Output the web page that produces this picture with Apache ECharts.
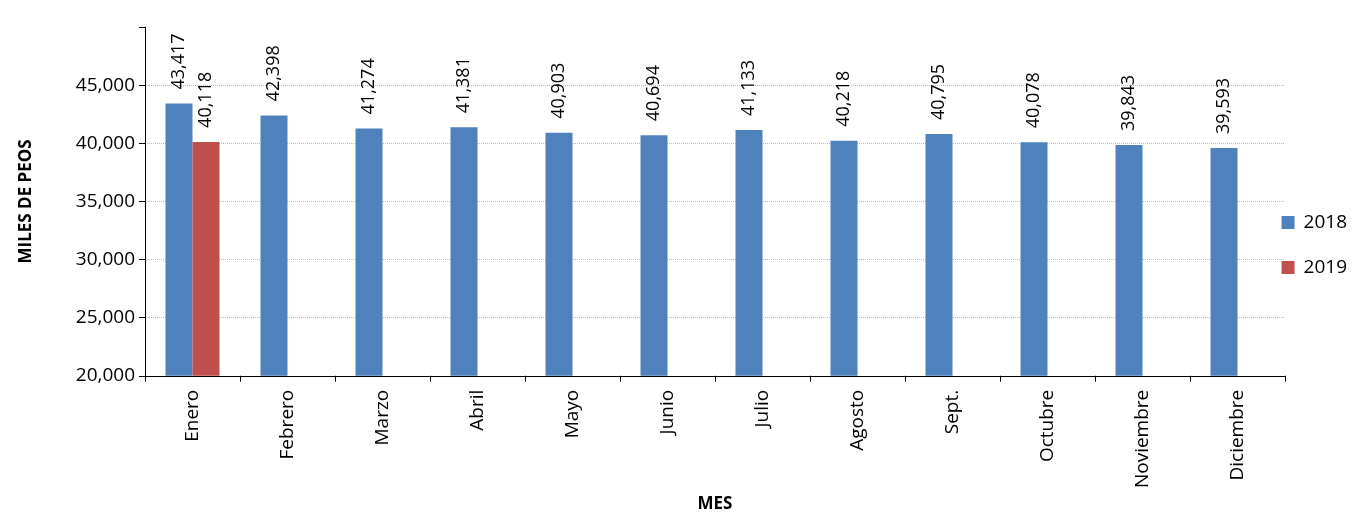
<!DOCTYPE html>
<html><head><meta charset="utf-8">
<script src="https://cdn.jsdelivr.net/npm/echarts@6/dist/echarts.min.js"></script>
<style>html,body{margin:0;background:#fff}#chart{width:1358px;height:518px}</style>
</head><body><div id="chart"></div>
<script>
var months = ["Enero","Febrero","Marzo","Abril","Mayo","Junio","Julio","Agosto","Sept.","Octubre","Noviembre","Diciembre"];
var v2018 = [43417,42398,41274,41381,40903,40694,41133,40218,40795,40078,39843,39593];
var v2019 = [40118,null,null,null,null,null,null,null,null,null,null,null];

var chart = echarts.init(document.getElementById("chart"), null, {renderer: "canvas"});
var font = "Open Sans";
var lbl = {
  show: true, position: "top", rotate: 90, align: "left", verticalAlign: "middle",
  distance: 14, fontFamily: font, fontSize: 18, color: "#000",
  formatter: function (p) { return p.value == null ? "" : p.value.toLocaleString("en-US"); }
};
chart.setOption({
  animation: false,
  textStyle: {fontFamily: font},
  grid: {left: 145, right: 73, top: 27, bottom: 137},
  legend: {
    orient: "vertical", right: 6, top: 208, itemGap: 26, itemWidth: 13, itemHeight: 13,
    icon: "rect", textStyle: {fontSize: 19, color: "#000", fontFamily: font, padding: [0, 0, 0, 4]},
    data: ["2018", "2019"]
  },
  xAxis: {
    type: "category", data: months, name: "MES", nameLocation: "middle", nameGap: 118,
    nameTextStyle: {fontWeight: "bold", fontSize: 17, color: "#000"},
    axisLine: {lineStyle: {color: "#000"}},
    axisTick: {show: true, length: 6, lineStyle: {color: "#000"}},
    axisLabel: {rotate: 90, fontSize: 19, color: "#000", margin: 14}
  },
  yAxis: {
    type: "value", min: 20000, max: 50000, interval: 5000,
    name: "MILES DE PEOS", nameLocation: "middle", nameGap: 110, nameRotate: 90,
    nameTextStyle: {fontWeight: "bold", fontSize: 17, color: "#000"},
    axisLine: {show: true, lineStyle: {color: "#000"}},
    axisTick: {show: true, length: 6, lineStyle: {color: "#000"}},
    splitLine: {showMaxLine: false, lineStyle: {color: "#bbb", type: "dotted"}},
    axisLabel: {fontSize: 19, color: "#000", margin: 10,
      formatter: function (v) { return v === 50000 ? "" : v.toLocaleString("en-US"); }}
  },
  series: [
    {name: "2018", type: "bar", data: v2018, barWidth: 27, barGap: "0%",
     itemStyle: {color: "#4f81bd"}, label: lbl},
    {name: "2019", type: "bar", data: v2019, barWidth: 27,
     itemStyle: {color: "#c0504d"}, label: lbl}
  ]
});
window.addEventListener("resize", chart.resize);
</script></body></html>
